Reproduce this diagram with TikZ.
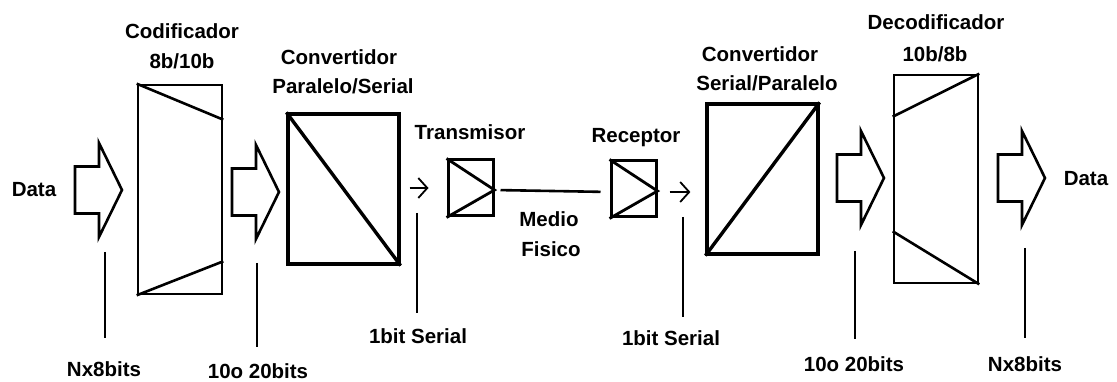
\documentclass[tikz,border=0pt]{standalone}
\usepackage{fontspec}
\setmainfont{Liberation Sans}
\usetikzlibrary{arrows.meta}
\begin{document}
\begin{tikzpicture}[x=1pt,y=-1pt,
  lbl/.style={font=\fontsize{20.5}{24}\selectfont\bfseries, inner sep=0pt, anchor=base},
  blk/.style={draw, line width=2.6pt, inner sep=0pt, line join=miter},
  conv/.style={blk, line width=3.2pt},
  diag/.style={line width=2.6pt},
  thick diag/.style={line width=3.4pt},
  lead/.style={line width=2.2pt},
  sarrow/.style={line width=1.8pt, -{Straight Barb[length=9pt,width=20pt,line width=1.8pt]}},
  barrow/.style={draw, line width=2.6pt, line join=miter},
  blockarrow/.pic={
    \draw[barrow] (0,-23.5) -- (24,-23.5) -- (24,-47) -- (47,0)
      -- (24,47) -- (24,23.5) -- (0,23.5) -- cycle;
  }]
\useasboundingbox (0,0) rectangle (1117,382);

% --- blocks ---
\node[blk, minimum width=84pt, minimum height=209pt] (cod) at (180,189.5) {};
\node[conv, minimum width=111pt, minimum height=150pt] (ps) at (343.5,189) {};
\node[blk, line width=3pt, minimum width=45pt, minimum height=56pt] (tx) at (470.5,188) {};
\node[blk, line width=3pt, minimum width=45pt, minimum height=56pt] (rx) at (633.5,189) {};
\node[conv, minimum width=111pt, minimum height=150pt] (sp) at (762.5,179) {};
\node[blk, minimum width=84pt, minimum height=208pt] (dec) at (936,179) {};

% encoder / decoder slopes
\draw[diag] (cod.north west) -- ([yshift=-36pt]cod.north east);
\draw[diag] (cod.south west) -- ([yshift=34pt]cod.south east);
\draw[diag] (dec.north east) -- ([yshift=-43pt]dec.north west);
\draw[diag] (dec.south east) -- ([yshift=53pt]dec.south west);

% converter diagonals
\draw[thick diag] (ps.north west) -- (ps.south east);
\draw[thick diag] (sp.south west) -- (sp.north east);

% transmitter / receiver chevrons
\draw[diag, line width=2.8pt] (tx.north west) -- ([yshift=-2pt]tx.east) -- (tx.south west);
\draw[diag, line width=2.8pt] (rx.north west) -- ([yshift=-2pt]rx.east) -- (rx.south west);

% physical medium
\draw[lead, line width=2.6pt, shorten <=6pt, shorten >=9pt] ([yshift=-2pt]tx.east) -- ([yshift=-3pt]rx.west);

% serial arrows
\draw[sarrow, shorten <=9pt, shorten >=18pt] (tx.west -| ps.east) -- (tx.west);
\draw[sarrow, shorten <=12pt, shorten >=15pt] ([yshift=-3pt]rx.east) -- ([yshift=-3pt]rx.east -| sp.west);

% parallel bus arrows
\pic at (75,190) {blockarrow};
\pic at (232,192) {blockarrow};
\pic at (837,178) {blockarrow};
\pic at (998,178) {blockarrow};

% titles
\node[lbl] (tcod1) at (182,39) {Codificador};
\node[lbl] (tcod2) at (182,69) {8b/10b};
\node[lbl] (tps1) at (339,65) {Convertidor};
\node[lbl] (tps2) at (343,94) {Paralelo/Serial};
\node[lbl] (ttx) at (470,140) {Transmisor};
\node[lbl] (trx) at (636,143) {Receptor};
\node[lbl] (tmed1) at (549,227) {Medio};
\node[lbl] (tmed2) at (551,257) {Fisico};
\node[lbl] (tsp1) at (760,62) {Convertidor};
\node[lbl] (tsp2) at (767,91) {Serial/Paralelo};
\node[lbl] (tdec1) at (936,30) {Decodificador};
\node[lbl] (tdec2) at (935,62) {10b/8b};
\node[lbl] (din) at (34,197) {Data};
\node[lbl] (dout) at (1086,186) {Data};

% bus width labels and leaders
\node[lbl] (w1) at (104,376) {Nx8bits};
\node[lbl] (w2) at (258,378) {10o 20bits};
\node[lbl] (w3) at (418,343) {1bit Serial};
\node[lbl] (w4) at (671,345) {1bit Serial};
\node[lbl] (w5) at (854,371) {10o 20bits};
\node[lbl] (w6) at (1025,371) {Nx8bits};

\coordinate (v1) at (105,252);
\coordinate (v2) at (257,263);
\coordinate (v3) at (417,213);
\coordinate (v4) at (683,217);
\coordinate (v5) at (855,251);
\coordinate (v6) at (1025,248);
\draw[lead, shorten >=23pt] (v1) -- (v1 |- w1.north);
\draw[lead, shorten >=16pt] (v2) -- (v2 |- w2.north);
\draw[lead, shorten >=15pt] (v3) -- (v3 |- w3.north);
\draw[lead, shorten >=13pt] (v4) -- (v4 |- w4.north);
\draw[lead, shorten >=17pt] (v5) -- (v5 |- w5.north);
\draw[lead, shorten >=18pt] (v6) -- (v6 |- w6.north);
\end{tikzpicture}
\end{document}
